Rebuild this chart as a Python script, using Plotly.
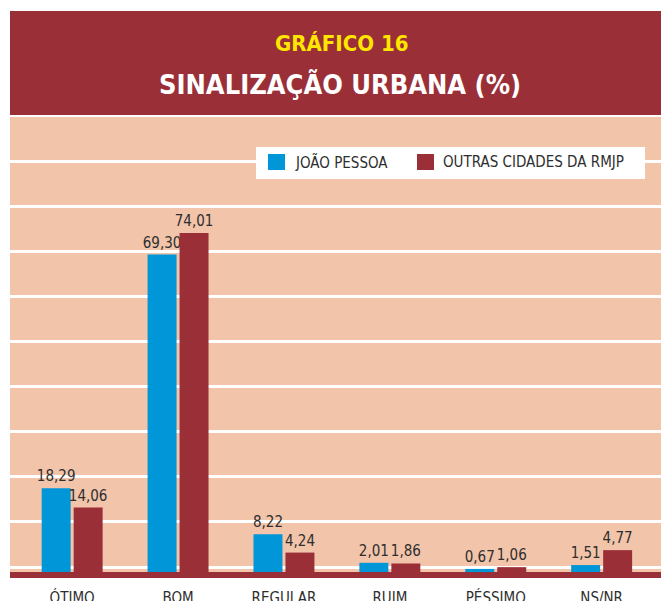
import plotly.graph_objects as go

# ---- data ----
categories = ["ÓTIMO", "BOM", "REGULAR", "RUIM", "PÉSSIMO", "NS/NR"]
joao_pessoa = [18.29, 69.30, 8.22, 2.01, 0.67, 1.51]
outras_cidades = [14.06, 74.01, 4.24, 1.86, 1.06, 4.77]
series_names = ["JOÃO PESSOA", "OUTRAS CIDADES DA RMJP"]
title_top = "GRÁFICO 16"
title_main = "SINALIZAÇÃO URBANA (%)"

# ---- style ----
BLUE = "#0096D8"
RED = "#9B2F37"
PEACH = "#F2C4AA"
TEXT = "#2E2E2E"
YELLOW = "#FFE600"
FONT = "DejaVu Sans Condensed, Liberation Sans Narrow, Roboto, sans-serif"

# page size and the browser's default 8px body margin
PAGE_W, PAGE_H = 669, 601
OFF = 8
W, H = PAGE_W - OFF, PAGE_H - OFF

# plot area in page pixels
PL, PR, PT, PB = 10, 669, 117, 572
L, R, T, B = PL - OFF, PAGE_W - PR, PT - OFF, PAGE_H - PB
PW = PR - PL
PH = PB - PT


def px(x):
    return (x - PL) / PW


def py(y):
    return (PB - y) / PH


fig = go.Figure()
for name, vals, col in [(series_names[0], joao_pessoa, BLUE),
                        (series_names[1], outras_cidades, RED)]:
    fig.add_trace(go.Bar(
        x=categories, y=vals, name=name, marker=dict(color=col, line=dict(width=0)),
        texttemplate="%{y:.2f}", textposition="outside", constraintext="none",
        textfont=dict(family=FONT, size=15, color=TEXT),
        cliponaxis=False, showlegend=False, hoverinfo="x+y+name",
    ))

shapes = [
    # header band
    dict(type="rect", xref="paper", yref="paper", x0=px(10), x1=px(669),
         y0=py(115), y1=py(11), fillcolor=RED, line=dict(width=0), layer="above"),
    # baseline bar
    dict(type="rect", xref="paper", yref="paper", x0=px(10), x1=px(669),
         y0=py(578), y1=py(572), fillcolor=RED, line=dict(width=0), layer="above"),
    # legend box
    dict(type="rect", xref="paper", yref="paper", x0=px(256), x1=px(645),
         y0=py(179), y1=py(147), fillcolor="white", line=dict(width=0), layer="above"),
    dict(type="rect", xref="paper", yref="paper", x0=px(268), x1=px(285),
         y0=py(170), y1=py(154), fillcolor=BLUE, line=dict(width=0), layer="above"),
    dict(type="rect", xref="paper", yref="paper", x0=px(417), x1=px(434),
         y0=py(170), y1=py(154), fillcolor=RED, line=dict(width=0), layer="above"),
]

annotations = [
    dict(text=title_top, xref="paper", yref="paper", x=px(341), y=py(44),
         xanchor="center", yanchor="middle", showarrow=False,
         font=dict(family=FONT, size=22, color=YELLOW, weight="bold")),
    dict(text=title_main, xref="paper", yref="paper", x=px(340), y=py(84),
         xanchor="center", yanchor="middle", showarrow=False,
         font=dict(family=FONT, size=27, color="white", weight="bold")),
    dict(text=series_names[0], xref="paper", yref="paper", x=px(293), y=py(162),
         xanchor="left", yanchor="middle", showarrow=False,
         font=dict(family=FONT, size=15, color=TEXT)),
    dict(text=series_names[1], xref="paper", yref="paper", x=px(441), y=py(162),
         xanchor="left", yanchor="middle", showarrow=False,
         font=dict(family=FONT, size=15, color=TEXT)),
]

fig.update_layout(
    width=W, height=H,
    margin=dict(l=L, r=R, t=T, b=B, pad=0),
    paper_bgcolor="white", plot_bgcolor=PEACH,
    barmode="group", bargap=0.396, bargroupgap=0.094,
    separators=",.",
    font=dict(family=FONT, color=TEXT),
    shapes=shapes, annotations=annotations,
    showlegend=False, hovermode="closest",
    xaxis=dict(type="category", range=[-0.587, 5.636], showgrid=False,
               zeroline=False, showline=False, ticks="outside", ticklen=12,
               tickcolor="rgba(0,0,0,0)", automargin=False,
               tickfont=dict(family=FONT, size=15, color=TEXT), fixedrange=True),
    yaxis=dict(range=[0, 99.35], showticklabels=False, showgrid=True,
               gridcolor="white", gridwidth=2.5, tick0=10.92, dtick=9.85,
               zeroline=False, showline=False, ticks="", automargin=False,
               fixedrange=True),
)

fig.write_html("out.html")
